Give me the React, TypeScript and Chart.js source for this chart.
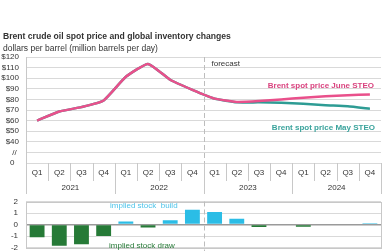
import React, { useEffect, useRef } from "react";
import { Chart, registerables } from "chart.js";

Chart.register(...registerables);

const quarters = ["Q1", "Q2", "Q3", "Q4", "Q1", "Q2", "Q3", "Q4", "Q1", "Q2", "Q3", "Q4", "Q1", "Q2", "Q3", "Q4"];
const years = ["2021", "2022", "2023", "2024"];
const juneSteo = [60, 68.6, 72.7, 79, 101.3, 113.5, 98.5, 89, 80.7, 77.6, 78.4, 80, 81.6, 83, 84, 84.7];
const maySteo = [60, 68.6, 72.7, 79, 101.3, 113.5, 98.5, 89, 80.7, 77.3, 77.2, 76.8, 75.9, 74.5, 73.5, 71.1];
const stockChange = [-1.1, -1.83, -1.7, -0.98, 0.26, -0.26, 0.38, 1.28, 1.1, 0.5, -0.2, 0, -0.18, 0, 0, 0.12];

const FONT = "'Liberation Sans', Arial, sans-serif";
const TEXT = "#333333";
const GRID = "#d9d9d9";
const PINK = "#e9508b";
const TEAL = "#2e9c94";
const BLUE = "#2bbde6";
const GREEN = "#267a37";

function forecastX(x: any) {
  return (x.getPixelForValue(7) + x.getPixelForValue(8)) / 2;
}

const topPlugin = {
  id: "topDecor",
  afterDraw(chart: any) {
    const ctx = chart.ctx;
    const area = chart.chartArea;
    const x = chart.scales.x;
    ctx.save();
    ctx.fillStyle = TEXT;
    ctx.textBaseline = "middle";
    ctx.textAlign = "left";
    ctx.font = `bold 8.6px ${FONT}`;
    ctx.fillText("Brent crude oil spot price and global inventory changes", 3, 37);
    ctx.font = `8.5px ${FONT}`;
    ctx.fillText("dollars per barrel (million barrels per day)", 3, 48.5);

    const w = x.getPixelForValue(1) - x.getPixelForValue(0);
    ctx.strokeStyle = "#c8c8c8";
    ctx.lineWidth = 1;
    for (let i = 0; i <= 16; i++) {
      const px = Math.round(x.getPixelForValue(i) - w / 2) + 0.5;
      const yearLine = i % 4 === 0;
      ctx.beginPath();
      ctx.moveTo(px, i === 0 ? area.top : area.bottom);
      ctx.lineTo(px, yearLine ? 194 : 181);
      ctx.stroke();
    }
    ctx.fillStyle = TEXT;
    ctx.textAlign = "center";
    ctx.font = `8px ${FONT}`;
    quarters.forEach((q, i) => {
      ctx.fillText(q, x.getPixelForValue(i), 173);
    });
    years.forEach((yr, j) => {
      const cx = (x.getPixelForValue(j * 4) + x.getPixelForValue(j * 4 + 3)) / 2;
      ctx.fillText(yr, cx, 188);
    });

    const fx = Math.round(forecastX(x)) + 0.5;
    ctx.strokeStyle = "#bdbdbd";
    ctx.setLineDash([5, 3]);
    ctx.beginPath();
    ctx.moveTo(fx, area.top);
    ctx.lineTo(fx, area.bottom);
    ctx.stroke();
    ctx.setLineDash([]);
    ctx.textAlign = "left";
    ctx.fillStyle = TEXT;
    ctx.fillText("forecast", fx + 7, 64);

    ctx.textAlign = "right";
    ctx.font = `bold 8px ${FONT}`;
    ctx.fillStyle = "#d9437f";
    ctx.fillText("Brent spot price June STEO", 374, 85.5);
    ctx.fillStyle = "#3aa39c";
    ctx.fillText("Brent spot price May STEO", 375, 127.5);
    ctx.restore();
  },
};

const bottomPlugin = {
  id: "bottomDecor",
  afterDatasetsDraw(chart: any) {
    const ctx = chart.ctx;
    const area = chart.chartArea;
    const x = chart.scales.x;
    ctx.save();
    ctx.strokeStyle = "#c8c8c8";
    ctx.lineWidth = 1;
    ctx.strokeRect(Math.round(area.left) + 0.5, Math.round(area.top) + 0.5, Math.round(area.right - area.left), Math.round(area.bottom - area.top));
    const fx = Math.round(forecastX(x)) + 0.5;
    ctx.strokeStyle = "#bdbdbd";
    ctx.setLineDash([5, 3]);
    ctx.beginPath();
    ctx.moveTo(fx, area.top);
    ctx.lineTo(fx, 251);
    ctx.stroke();
    ctx.setLineDash([]);
    ctx.font = `8px ${FONT}`;
    ctx.textBaseline = "middle";
    ctx.textAlign = "left";
    ctx.fillStyle = "#4cc3e9";
    ctx.fillText("implied stock  build", 110, 206);
    ctx.fillStyle = GREEN;
    ctx.fillText("implied stock draw", 109, 246);
    ctx.restore();
  },
};

export default function App() {
  const topRef = useRef<HTMLCanvasElement>(null);
  const botRef = useRef<HTMLCanvasElement>(null);

  useEffect(() => {
    document.body.style.margin = "0";
    Chart.defaults.font.family = FONT;
    Chart.defaults.font.size = 8;
    Chart.defaults.color = TEXT;

    const labels = quarters.map((q, i) => `${q} ${years[Math.floor(i / 4)]}`);

    const top = new Chart(topRef.current!, {
      type: "line",
      data: {
        labels,
        datasets: [
          { label: "Brent spot price June STEO", data: juneSteo, borderColor: PINK, borderWidth: 2.5, pointRadius: 0, tension: 0.15 },
          { label: "Brent spot price May STEO", data: maySteo, borderColor: TEAL, borderWidth: 2.5, pointRadius: 0, tension: 0.15 },
        ],
      },
      options: {
        responsive: false,
        animation: false,
        devicePixelRatio: 1,
        layout: { padding: { left: 0, right: 3, top: 57, bottom: 88 } },
        plugins: { legend: { display: false }, tooltip: { enabled: false } },
        scales: {
          x: { display: false, offset: true },
          y: {
            min: 20,
            max: 120,
            afterFit: (s: any) => { s.width = 26; },
            border: { display: false },
            grid: { color: GRID, drawTicks: false },
            ticks: {
              stepSize: 10,
              autoSkip: false,
              padding: 7,
              color: TEXT,
              font: { size: 8, family: FONT },
              callback: (v: any) => (v === 20 ? "0  " : v === 30 ? "// " : "$" + v),
            },
          },
        },
      },
      plugins: [topPlugin],
    });

    const bottom = new Chart(botRef.current!, {
      type: "bar",
      data: {
        labels,
        datasets: [
          {
            label: "implied stock change",
            data: stockChange,
            backgroundColor: stockChange.map((v) => (v >= 0 ? BLUE : GREEN)),
            categoryPercentage: 1,
            barPercentage: 0.67,
          },
        ],
      },
      options: {
        responsive: false,
        animation: false,
        devicePixelRatio: 1,
        layout: { padding: { left: 0, right: 3, top: 201.5, bottom: 280 - 247.7 } },
        plugins: { legend: { display: false }, tooltip: { enabled: false } },
        scales: {
          x: { display: false, offset: true },
          y: {
            min: -2,
            max: 2,
            afterFit: (s: any) => { s.width = 26; },
            border: { display: false },
            grid: {
              drawTicks: false,
              color: (c: any) => (c.tick && c.tick.value === 0 ? "#9a9a9a" : GRID),
              lineWidth: (c: any) => (c.tick && c.tick.value === 0 ? 1.5 : 1),
            },
            ticks: { stepSize: 1, autoSkip: false, padding: 8, color: TEXT, font: { size: 8, family: FONT } },
          },
        },
      },
      plugins: [bottomPlugin],
    });

    return () => {
      top.destroy();
      bottom.destroy();
    };
  }, []);

  return (
    <div style={{ position: "relative", width: 384, height: 251, overflow: "hidden", background: "#fff" }}>
      <canvas ref={botRef} width={384} height={280} style={{ position: "absolute", left: 0, top: 0 }} />
      <canvas ref={topRef} width={384} height={251} style={{ position: "absolute", left: 0, top: 0 }} />
    </div>
  );
}
